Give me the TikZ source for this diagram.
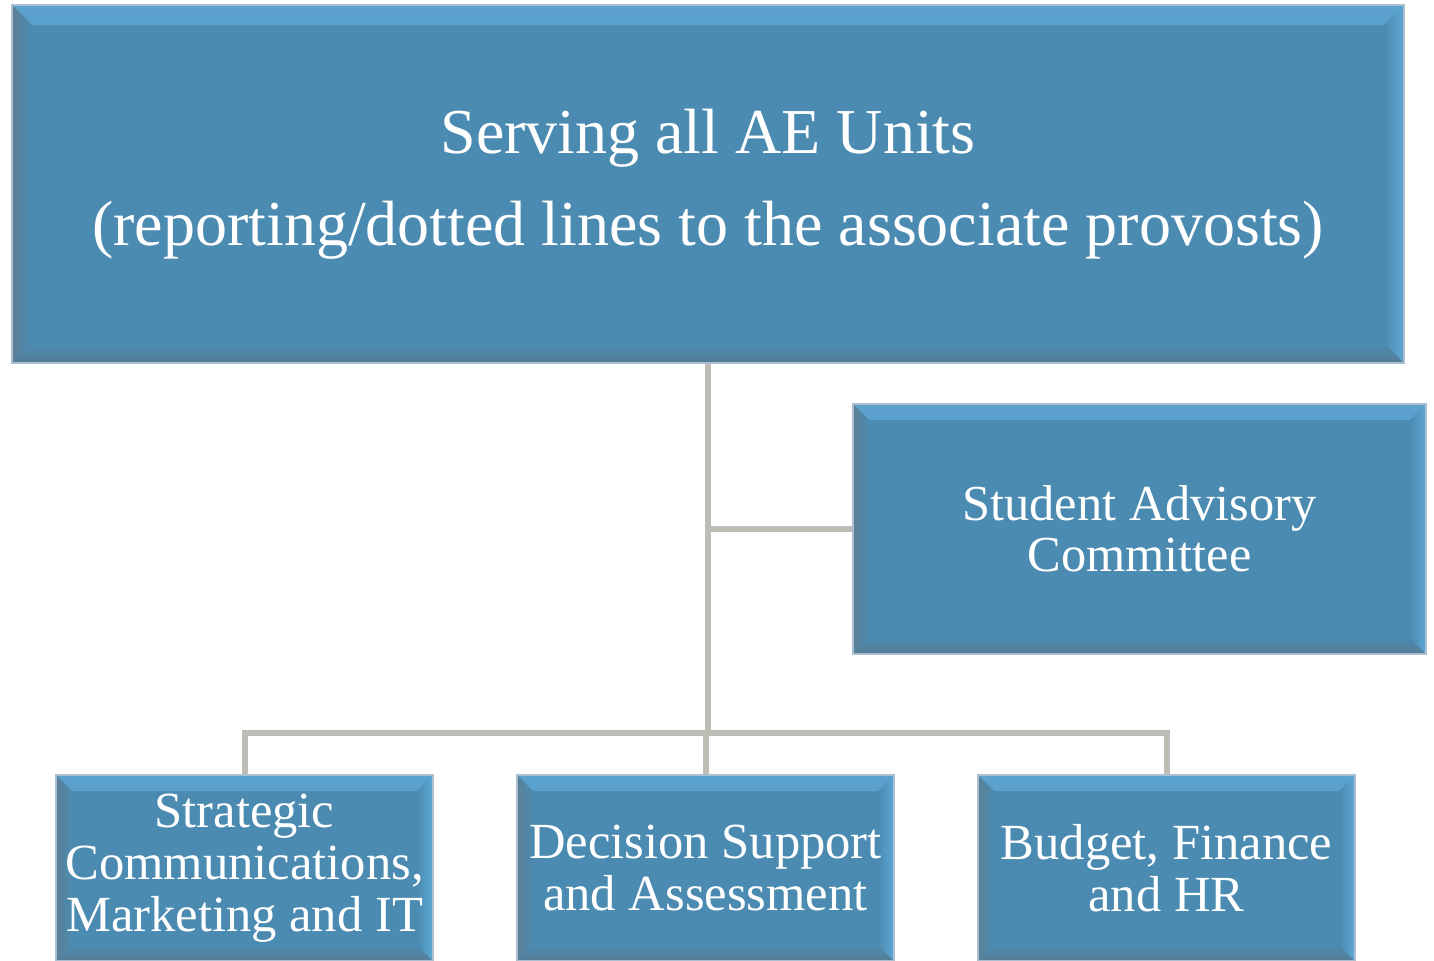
\documentclass[tikz,border=0pt]{standalone}
\usepackage{fontspec}
\setmainfont{Liberation Serif}
\usetikzlibrary{positioning}

\definecolor{boxmain}{RGB}{75,139,177}
\definecolor{boxtop}{RGB}{92,162,206}
\definecolor{boxleft}{RGB}{92,128,150}
\definecolor{boxright}{RGB}{94,168,214}
\definecolor{boxbottom}{RGB}{86,124,148}
\definecolor{boxedge}{RGB}{170,192,208}
\definecolor{linkgray}{RGB}{189,189,182}

\tikzset{
  bevel/.style={draw=boxedge, line width=0.8pt, fill=boxmain, inner sep=0pt,
    text=white, align=center,
    path picture={
      \shade[top color=boxtop, bottom color=boxmain] (path picture bounding box.north west) -- (path picture bounding box.north east)
        -- ([shift={(-#1,-#1)}]path picture bounding box.north east) -- ([shift={(#1,-#1)}]path picture bounding box.north west) -- cycle;
      \shade[top color=boxmain, bottom color=boxbottom] (path picture bounding box.south west) -- (path picture bounding box.south east)
        -- ([shift={(-#1,#1)}]path picture bounding box.south east) -- ([shift={(#1,#1)}]path picture bounding box.south west) -- cycle;
      \shade[left color=boxleft, right color=boxmain] (path picture bounding box.north west) -- (path picture bounding box.south west)
        -- ([shift={(#1,#1)}]path picture bounding box.south west) -- ([shift={(#1,-#1)}]path picture bounding box.north west) -- cycle;
      \shade[left color=boxmain, right color=boxright] (path picture bounding box.north east) -- (path picture bounding box.south east)
        -- ([shift={(-#1,#1)}]path picture bounding box.south east) -- ([shift={(-#1,-#1)}]path picture bounding box.north east) -- cycle;
    }},
  bevel/.default=9pt,
  link/.style={draw=linkgray, line width=3pt}
}

\begin{document}
\begin{tikzpicture}[x=0.5pt, y=-0.5pt]
% page frame
\useasboundingbox (0,0) rectangle (1434,960);
\clip (0,0) rectangle (1434,960);

% boxes
\node[bevel=10pt, minimum width=696pt, minimum height=179pt,
      font=\fontsize{32}{46}\selectfont] (serve) at (708,184)
  {Serving all AE Units\\(reporting/dotted lines to the associate provosts)};
\node[bevel=8pt, minimum width=286.5pt, minimum height=125pt,
      font=\fontsize{25.2}{25.5}\selectfont] (sac) at (1139.5,529)
  {Student Advisory\\Committee};

\node[bevel=8pt, minimum width=188.5pt, minimum height=93pt,
      font=\fontsize{25.3}{26}\selectfont] (strat) at (244.5,868)
  {Strategic\\Communications,\\Marketing and IT};
\node[bevel=8pt, minimum width=188.5pt, minimum height=93pt,
      font=\fontsize{25.3}{26}\selectfont] (decide) at (705.5,868)
  {Decision Support\\and Assessment};
\node[bevel=8pt, minimum width=188.5pt, minimum height=93pt,
      font=\fontsize{25.3}{26}\selectfont] (budget) at (1166.5,868)
  {Budget, Finance\\and HR};

% connectors
\coordinate (hub) at (708,733);
\draw[link] (serve.south) -- (hub);
\draw[link] (serve.south |- sac.west) -- (sac.west);
\draw[link] (strat.north) |- (hub) -| (budget.north);
\draw[link] (decide.north) -- (decide.north |- hub);

\end{tikzpicture}
\end{document}
